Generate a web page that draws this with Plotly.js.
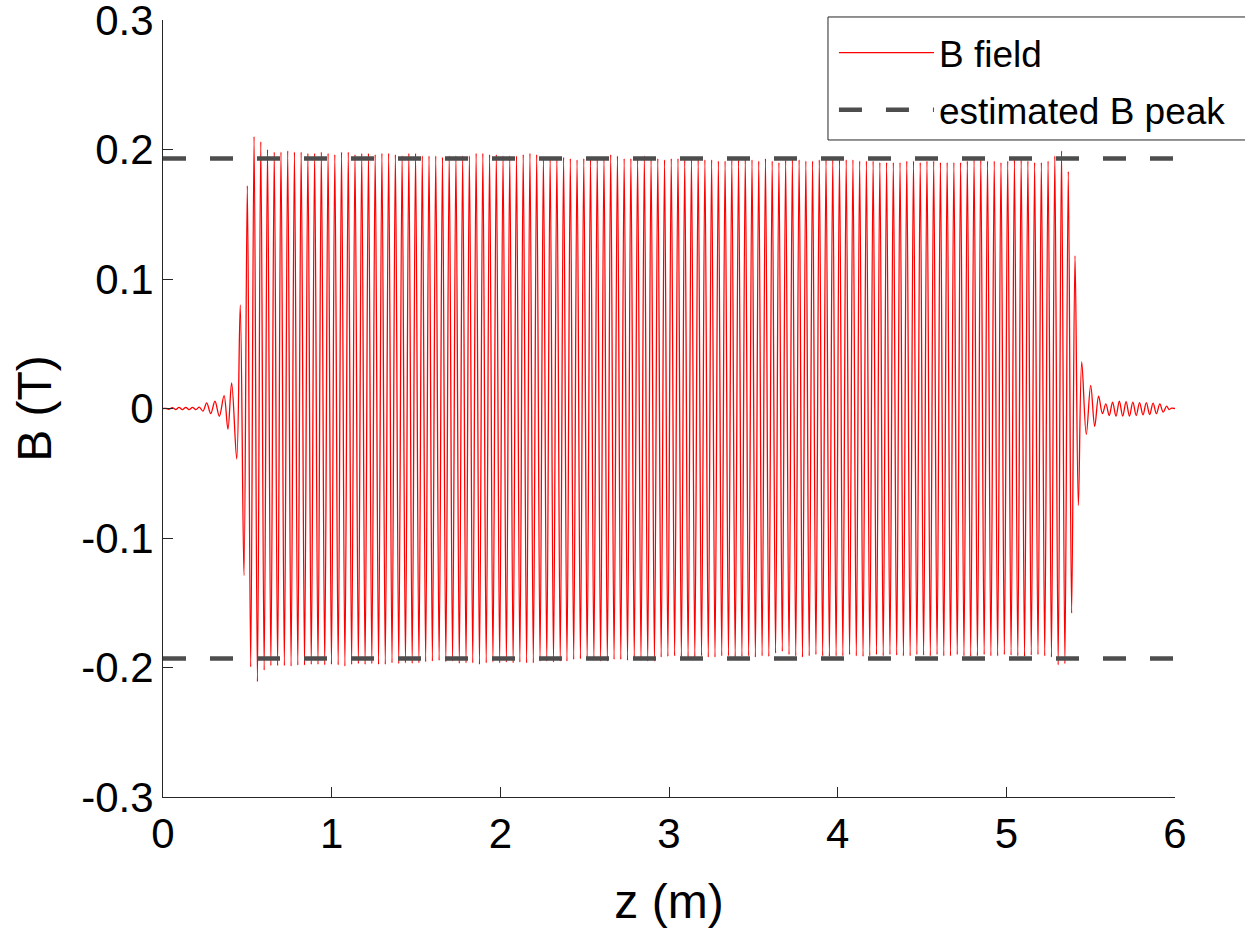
<!DOCTYPE html>
<html>
<head>
<meta charset="utf-8">
<script src="https://cdn.plot.ly/plotly-3.0.1.min.js"></script>
<style>html,body{margin:0;padding:0;background:#fff;}#chart{width:1245px;height:928px;}</style>
</head>
<body>
<div id="chart"></div>
<script>
// ---- data ----
// entrance fringe: extrema positions (m) and field values (T)
var preZ = [0.00, 0.02, 0.035, 0.055, 0.075, 0.095, 0.115, 0.135, 0.155, 0.175, 0.195, 0.215, 0.237,
            0.259, 0.283, 0.308, 0.334, 0.362, 0.385, 0.407, 0.437, 0.458, 0.480];
var preB = [0.0, 0.0, -0.0006, 0.0007, -0.0008, 0.0008, -0.0009, 0.0008, -0.0009, 0.0009, -0.0008, 0.0010, -0.0020,
            0.0044, -0.0039, 0.0056, -0.0060, 0.0100, -0.0160, 0.0198, -0.0390, 0.0800, -0.1290];

// main undulator section: alternating extrema, first one (positive) at mainStart, spacing mainStep
var mainStart = 0.500;
var mainEnd = 5.447;
var mainPos = [0.172,
  0.210, 0.206, 0.200, 0.198, 0.198, 0.199, 0.198, 0.198, 0.197, 0.197,
  0.198, 0.197, 0.196, 0.198, 0.198, 0.196, 0.197, 0.197, 0.196, 0.197,
  0.197, 0.196, 0.195, 0.197, 0.197, 0.195, 0.195, 0.195, 0.194, 0.195, 0.195,
  0.195, 0.195, 0.197, 0.197, 0.196, 0.196, 0.195, 0.195, 0.195, 0.196,
  0.197, 0.196, 0.194, 0.194, 0.194, 0.194, 0.193, 0.192, 0.193, 0.193,
  0.193, 0.194, 0.196, 0.195, 0.193, 0.193, 0.193, 0.195, 0.193, 0.193, 0.192,
  0.193, 0.193, 0.192, 0.193, 0.192, 0.192, 0.192, 0.191, 0.191, 0.192,
  0.192, 0.193, 0.192, 0.191, 0.193, 0.191, 0.190, 0.192, 0.193, 0.192,
  0.191, 0.191, 0.192, 0.192, 0.193, 0.192, 0.192, 0.192, 0.191, 0.191, 0.191,
  0.190, 0.190, 0.190, 0.190, 0.191, 0.191, 0.190, 0.191, 0.191, 0.190,
  0.190, 0.190, 0.190, 0.191, 0.193, 0.192, 0.191, 0.191, 0.190, 0.191,
  0.192, 0.192, 0.191, 0.190, 0.190, 0.191, 0.195, 0.199,
  0.183, 0.118, 0.036];
var mainNeg = [
  -0.1996, -0.211, -0.202, -0.1985, -0.1985, -0.1985, -0.199, -0.1982, -0.1982, -0.1977,
  -0.1977, -0.198, -0.1977, -0.198, -0.199, -0.1977, -0.197, -0.1977, -0.197, -0.1977,
  -0.1977, -0.1964, -0.197, -0.1964, -0.1969, -0.1964, -0.1956, -0.1951, -0.1945, -0.1956,
  -0.1951, -0.1969, -0.1964, -0.1964, -0.1977, -0.1964, -0.1956, -0.1964, -0.1959, -0.1964,
  -0.1959, -0.1964, -0.1964, -0.1951, -0.1951, -0.1959, -0.1951, -0.1951, -0.1938, -0.1933,
  -0.1938, -0.1945, -0.1951, -0.1951, -0.1938, -0.1938, -0.1945, -0.1933, -0.1945, -0.1951, -0.1951,
  -0.192, -0.1915, -0.191, -0.192, -0.192, -0.192, -0.191, -0.192, -0.192, -0.191,
  -0.191, -0.192, -0.1915, -0.191, -0.192, -0.191, -0.1915, -0.189, -0.1875, -0.190,
  -0.191, -0.192, -0.191, -0.190, -0.191, -0.1915, -0.191, -0.191, -0.190, -0.191,
  -0.1915, -0.191, -0.190, -0.191, -0.190, -0.1905, -0.191, -0.191, -0.190, -0.1905,
  -0.191, -0.190, -0.191, -0.191, -0.190, -0.191, -0.1915, -0.191, -0.190, -0.191,
  -0.191, -0.190, -0.1905, -0.191, -0.1915, -0.1905, -0.190, -0.191, -0.192, -0.198, -0.197,
  -0.158, -0.075];

// exit fringe: extrema positions (m) and field values (T)
var postZ = [5.474, 5.500, 5.524, 5.547, 5.570, 5.590, 5.610, 5.630, 5.650, 5.670, 5.690, 5.710, 5.730,
             5.750, 5.770, 5.790, 5.810, 5.830, 5.850, 5.870, 5.890, 5.910, 5.930, 5.950, 5.965, 5.980, 6.000];
var postB = [-0.0200, 0.0178, -0.0137, 0.0095, -0.0040, 0.0035, -0.0055, 0.0050, -0.0060, 0.0056, -0.0058, 0.0052, -0.0058,
             0.0050, -0.0054, 0.0046, -0.0050, 0.0045, -0.0047, 0.0042, -0.0040, 0.0035, -0.0028, 0.0018, -0.0008, 0.0003, 0.0];

var peakEstimate = 0.193;
var xRange = [0, 6];
var yRange = [-0.3, 0.3];
var xTicks = [0, 1, 2, 3, 4, 5, 6];
var yTicks = [-0.3, -0.2, -0.1, 0, 0.1, 0.2, 0.3];
var yTickText = ['-0.3', '-0.2', '-0.1', '0', '0.1', '0.2', '0.3'];

// ---- assemble the field trace ----
var nMain = mainPos.length + mainNeg.length;
var mainStep = (mainEnd - mainStart) / (nMain - 1);
var zAll = preZ.slice();
var bAll = preB.slice();
for (var i = 0; i < nMain; i++) {
  zAll.push(mainStart + i * mainStep);
  bAll.push(i % 2 === 0 ? mainPos[i / 2] : mainNeg[(i - 1) / 2]);
}
zAll = zAll.concat(postZ);
bAll = bAll.concat(postB);

var FONT = 'Liberation Sans, Arial, Helvetica, sans-serif';
var AX = '#262626';
var dashCol = '#4d4d4d';
var eps = 1e-7;

var traces = [
  {x: zAll, y: bAll, type: 'scatter', mode: 'lines', name: 'B field', legendgroup: 'b',
   line: {color: '#ff0000', width: 1.3, shape: 'spline', smoothing: 1}},
  {x: xRange, y: [peakEstimate, peakEstimate], type: 'scatter', mode: 'lines', name: 'estimated B peak',
   legendgroup: 'pk', line: {color: dashCol, width: 4.5, dash: '23px,24px'}},
  {x: xRange, y: [-peakEstimate, -peakEstimate], type: 'scatter', mode: 'lines', name: 'estimated B peak',
   legendgroup: 'pk', showlegend: false, line: {color: dashCol, width: 4.5, dash: '23px,24px'}}
];

var layout = {
  width: 1245, height: 928,
  margin: {l: 163, r: 70, t: 20, b: 131, pad: 0},
  paper_bgcolor: '#ffffff', plot_bgcolor: '#ffffff',
  font: {family: FONT, color: AX, size: 42},
  showlegend: true,
  legend: {x: 0.663, y: 0.9974, xanchor: 'left', yanchor: 'top',
           bgcolor: 'rgba(0,0,0,0)', borderwidth: 0,
           font: {family: FONT, size: 37, color: '#000000'},
           itemwidth: 95, tracegroupgap: 6},
  shapes: [
    {type: 'rect', xref: 'paper', yref: 'paper', x0: 0.6571, x1: 1.0731, y0: 0.8456, y1: 1.0039,
     line: {color: AX, width: 1}, fillcolor: '#ffffff', layer: 'above'}
  ],
  xaxis: {range: xRange, tickvals: xTicks, ticks: 'inside', ticklen: 10, tickwidth: 1, tickcolor: AX,
          showline: true, linecolor: AX, linewidth: 1, showgrid: false, zeroline: false,
          tickfont: {family: FONT, size: 42, color: '#000000'}, ticklabeloverflow: 'allow',
          title: {text: 'z (m)', font: {family: FONT, size: 48, color: '#000000'}, standoff: 28}},
  yaxis: {range: [yRange[0] - eps, yRange[1] + eps], tickvals: yTicks, ticktext: yTickText, ticks: 'inside', ticklen: 10, tickwidth: 1, tickcolor: AX,
          showline: true, linecolor: AX, linewidth: 1, showgrid: false, zeroline: false,
          tickfont: {family: FONT, size: 42, color: '#000000'}, ticklabeloverflow: 'allow',
          title: {text: 'B (T)', font: {family: FONT, size: 48, color: '#000000'}, standoff: 14}}
};

Plotly.newPlot('chart', traces, layout, {displayModeBar: false, staticPlot: true});
</script>
</body>
</html>
